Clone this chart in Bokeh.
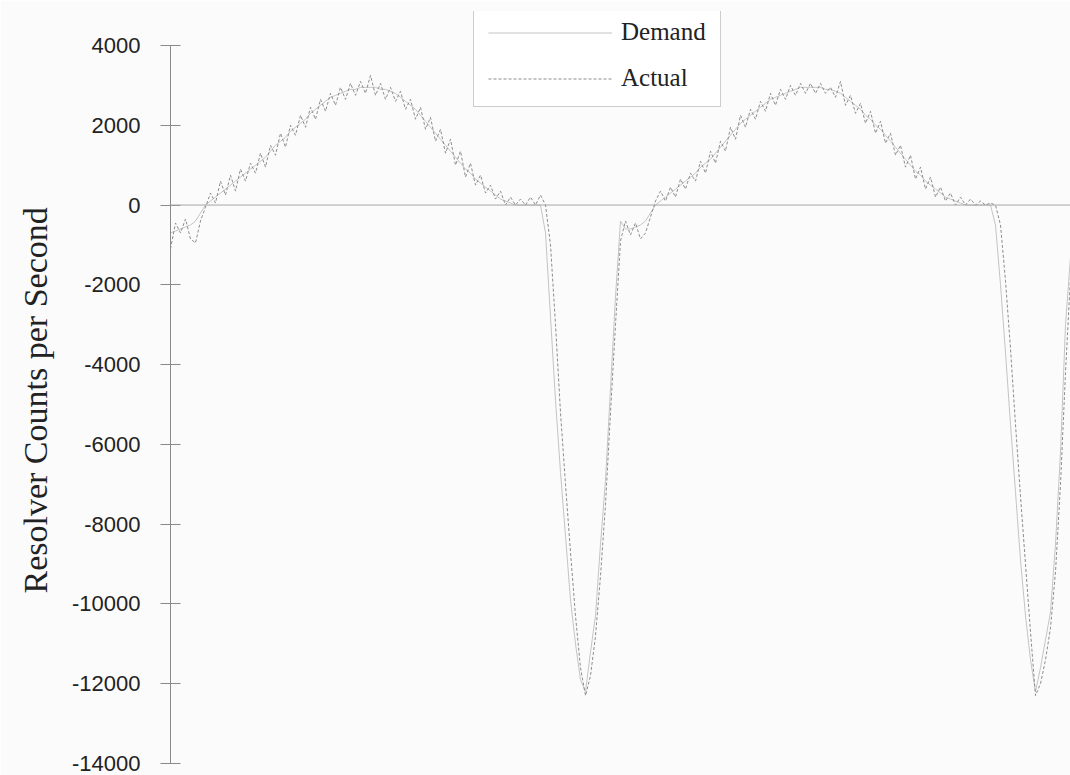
from bokeh.plotting import figure
from bokeh.models import Range1d, FixedTicker, Span, Legend, LegendItem, Title
from bokeh.embed import file_html
from bokeh.resources import INLINE

# Velocity samples (resolver counts per second), one per control sample
demand = [
    -700, -650, -600, -550, -500, -400, -200, 0, 100, 200,
    300, 400, 500, 600, 700, 800, 900, 1000, 1100, 1200,
    1350, 1500, 1600, 1700, 1850, 1950, 2050, 2150, 2300, 2400,
    2500, 2600, 2700, 2750, 2800, 2850, 2900, 2900, 2950, 2950,
    2950, 2950, 2900, 2900, 2850, 2800, 2700, 2600, 2500, 2400,
    2250, 2100, 1950, 1800, 1650, 1500, 1350, 1200, 1050, 900,
    800, 650, 550, 450, 350, 250, 150, 100, 50, 0,
    0, 0, 0, 0, 0,
    -700, -2800, -4900, -6700, -8300, -9900, -11000, -11900, -12200, -11200,
    -10300, -8500, -6900, -4600, -2300, -400,
    -600, -600, -550, -500, -400, -200,
    0, 100, 200, 300, 400, 500, 600, 700, 800, 950,
    1050, 1150, 1300, 1450, 1600, 1750, 1900, 2050, 2150, 2250,
    2350, 2450, 2550, 2650, 2700, 2750, 2800, 2850, 2900, 2950,
    2950, 2950, 2950, 2950, 2900, 2900, 2850, 2800, 2700, 2600,
    2500, 2400, 2250, 2150, 2000, 1900, 1750, 1600, 1450, 1300,
    1150, 1000, 850, 750, 600, 500, 400, 300, 200, 150,
    100, 50, 0, 0, 0, 0, 0, 0,
    -500, -2000, -3700, -5500, -7200, -8900, -10300, -11400, -12200, -11600,
    -10900, -10200, -8500, -6200, -3000, -1300,
]

actual = [
    -1100, -450, -700, -350, -850, -950, -400, -50, 300, 50,
    600, 250, 750, 350, 900, 600, 1050, 800, 1300, 950,
    1500, 1250, 1800, 1450, 2000, 1750, 2250, 1950, 2450, 2150,
    2650, 2350, 2800, 2500, 2950, 2650, 3050, 2750, 3100, 2800,
    3250, 2750, 3050, 2650, 2950, 2600, 2850, 2400, 2650, 2150,
    2450, 1900, 2200, 1600, 1900, 1300, 1650, 1000, 1350, 700,
    1050, 500, 750, 300, 500, 150, 350, 0, 200, 0,
    150, 0, 200, 0, 250,
    0, -1000, -3000, -5200, -7000, -8700, -10300, -11600, -12300, -11800,
    -10800, -9300, -7500, -5200, -3000, -900,
    -400, -750, -450, -850, -700, -300,
    100, 350, 100, 450, 200, 650, 400, 800, 600, 1100,
    800, 1350, 1050, 1600, 1350, 1950, 1650, 2250, 1950, 2400,
    2150, 2600, 2350, 2800, 2500, 2900, 2650, 3000, 2750, 3050,
    2800, 3050, 2800, 3050, 2800, 2950, 2700, 3100, 2500, 2750,
    2300, 2550, 2050, 2350, 1800, 2100, 1550, 1800, 1250, 1500,
    950, 1250, 650, 950, 400, 700, 200, 450, 100, 300,
    0, 200, 0, 150, 0, 100, 0, 50,
    0, -500, -1900, -3600, -5500, -7300, -9000, -10700, -12300, -12000,
    -11400, -10600, -9200, -7000, -4200, -1800,
]

sample = list(range(len(demand)))

y_ticks = [4000, 2000, 0, -2000, -4000, -6000, -8000, -10000, -12000, -14000]
y_tick_labels = ["4000", "2000", "0", "-2000", "-4000", "-6000", "-8000",
                 "-10000", "-12000", "-14000"]
y_min, y_max = -14000, 4000

# headroom above the top tick leaves space for the legend box
p = figure(
    width=1070, height=775,
    x_range=Range1d(0, len(sample) - 1),
    y_range=Range1d(y_min, y_max + 852),
    output_backend="svg", toolbar_location=None,
    min_border_left=170, min_border_right=0,
    min_border_top=11, min_border_bottom=12,
    background_fill_color="#fbfbfb", border_fill_color="#fbfbfb",
)
p.outline_line_color = None
p.xgrid.visible = False
p.ygrid.visible = False
p.xaxis.visible = False

ax = p.yaxis[0]
ax.bounds = (y_min, y_max)
ax.ticker = FixedTicker(ticks=y_ticks)
ax.major_label_overrides = {t: s for t, s in zip(y_ticks, y_tick_labels)}
ax.minor_tick_line_color = None
ax.major_tick_in = 10
ax.major_tick_out = 10
ax.axis_line_color = "#8a8a8a"
ax.major_tick_line_color = "#8a8a8a"
ax.major_label_text_font = "Liberation Sans"
ax.major_label_text_font_size = "22px"
ax.major_label_text_color = "#222222"
ax.major_label_standoff = 20

# axis title, centred on the tick span (-14000..4000)
p.add_layout(Title(
    text="Resolver Counts per Second", align="left", offset=170,
    text_font="Liberation Serif", text_font_style="normal",
    text_font_size="34px", text_color="#222222", standoff=29,
), "left")

# zero line across the plot
p.add_layout(Span(location=0, dimension="width", line_color="#a6a6a6", line_width=1))

r_demand = p.line(sample, demand, line_color="#c4c4c4", line_width=1)
r_actual = p.line(sample, actual, line_color="#8c8c8c", line_width=1, line_dash="3 2")

legend = Legend(
    items=[LegendItem(label="Demand", renderers=[r_demand]),
           LegendItem(label="Actual", renderers=[r_actual])],
    location=(303, 656),
    orientation="vertical",
    glyph_width=124, glyph_height=25,
    label_height=25, label_standoff=9,
    label_text_font="Liberation Serif", label_text_font_size="25px",
    label_text_color="#222222",
    padding=14, spacing=18, margin=0,
    border_line_color="#9a9a9a", border_line_width=1,
    background_fill_color="#ffffff", background_fill_alpha=1,
)
p.add_layout(legend)

open("out.html", "w").write(file_html(p, INLINE))
